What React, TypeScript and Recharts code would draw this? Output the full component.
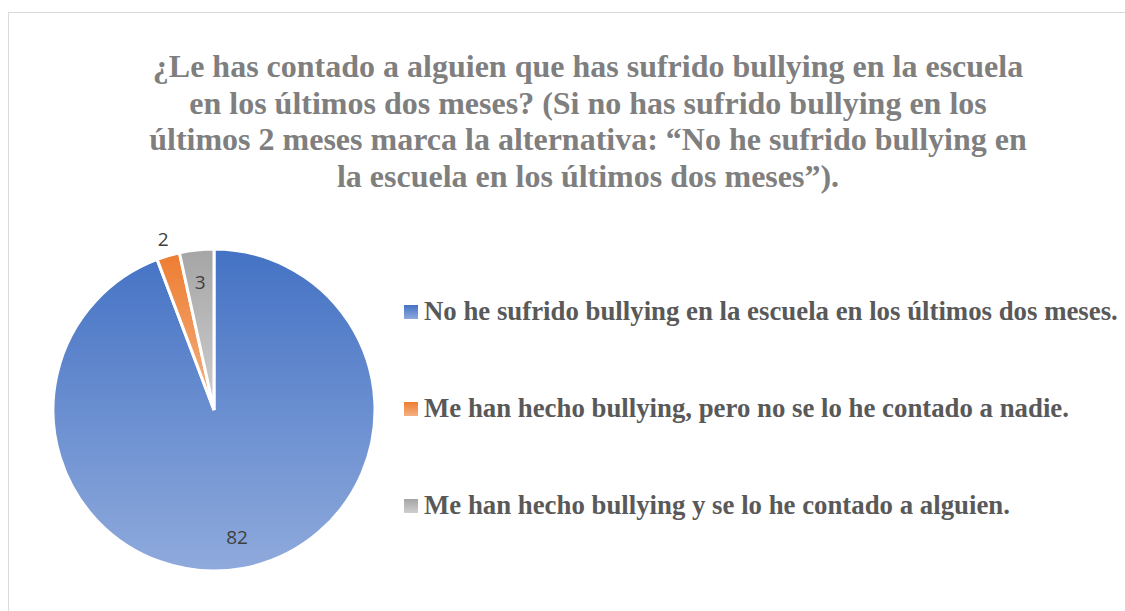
import React from "react";
import { PieChart, Pie, Cell, Legend } from "recharts";

const categories = [
  "No he sufrido bullying en la escuela en los últimos dos meses.",
  "Me han hecho bullying, pero no se lo he contado a nadie.",
  "Me han hecho bullying y se lo he contado a alguien.",
];
const values = [82, 2, 3];
const titleLines = [
  "¿Le has contado a alguien que has sufrido bullying en la escuela",
  "en los últimos dos meses? (Si no has sufrido bullying en los",
  "últimos 2 meses marca la alternativa: “No he sufrido bullying en",
  "la escuela en los últimos dos meses”).",
];
const gradients = [
  { id: "gBlue", from: "#4472C4", to: "#8FAADC" },
  { id: "gOrange", from: "#ED7D31", to: "#F4B183" },
  { id: "gGray", from: "#A5A5A5", to: "#CFCFCF" },
];

const data = categories.map((name, i) => ({ name, value: values[i] }));

const RAD = Math.PI / 180;

const renderLabel = (props: any) => {
  const { cx, cy, midAngle, outerRadius, percent, value } = props;
  const r = percent < 0.03 ? outerRadius + 17 : outerRadius * 0.8;
  const x = cx + r * Math.cos(-midAngle * RAD);
  const y = cy + r * Math.sin(-midAngle * RAD);
  return (
    <text
      x={x}
      y={y}
      textAnchor="middle"
      dominantBaseline="central"
      fill="#404040"
      fontFamily="'Open Sans', 'Noto Sans', sans-serif"
      fontSize={19}
    >
      {value}
    </text>
  );
};

const renderLegend = () => {
  return (
    <div style={{ display: "flex", flexDirection: "column" }}>
      {categories.map((name, i) => (
        <div
          key={name}
          style={{
            display: "flex",
            alignItems: "center",
            height: 97,
            fontFamily: "'Liberation Serif', 'Times New Roman', serif",
            fontWeight: "bold",
            fontSize: 26.8,
            color: "#595959",
            whiteSpace: "nowrap",
          }}
        >
          <svg width={14} height={14} style={{ marginRight: 6, flex: "none" }}>
            <rect x={0} y={0} width={14} height={14} fill={`url(#${gradients[i].id})`} />
          </svg>
          <span>{name}</span>
        </div>
      ))}
    </div>
  );
};

export default function App() {
  return (
    <div style={{ position: "relative", width: 1125, height: 611, overflow: "hidden", background: "#fff" }}>
      <style>{"html,body{margin:0;padding:0;overflow:hidden;background:#fff}"}</style>
      <div
        style={{
          position: "absolute",
          left: 8,
          top: 12,
          width: 1300,
          height: 800,
          border: "1px solid #D9D9D9",
          boxSizing: "border-box",
        }}
      />
      <div
        style={{
          position: "absolute",
          left: 88,
          top: 48,
          width: 1000,
          textAlign: "center",
          fontFamily: "'Liberation Serif', 'Times New Roman', serif",
          fontWeight: "bold",
          fontSize: 32,
          lineHeight: "36.7px",
          color: "#7F7F7F",
        }}
      >
        {titleLines.map((l, i) => (
          <div key={i}>{l}</div>
        ))}
      </div>
      <div style={{ position: "absolute", left: 0, top: 0 }}>
        <PieChart width={1125} height={611} margin={{ top: 0, right: 0, bottom: 0, left: 0 }}>
          <defs>
            {gradients.map((g) => (
              <linearGradient key={g.id} id={g.id} x1="0" y1="0" x2="0" y2="1">
                <stop offset="0%" stopColor={g.from} />
                <stop offset="100%" stopColor={g.to} />
              </linearGradient>
            ))}
          </defs>
          <Pie
            data={data}
            dataKey="value"
            nameKey="name"
            cx={214}
            cy={410}
            outerRadius={161}
            startAngle={90}
            endAngle={-270}
            stroke="#FFFFFF"
            strokeWidth={3}
            label={renderLabel}
            labelLine={false}
            isAnimationActive={false}
          >
            {data.map((d, i) => (
              <Cell key={d.name} fill={`url(#${gradients[i].id})`} />
            ))}
          </Pie>
          <Legend
            layout="vertical"
            content={renderLegend}
            wrapperStyle={{ position: "absolute", left: 404, top: 263, width: 720 }}
          />
        </PieChart>
      </div>
    </div>
  );
}
